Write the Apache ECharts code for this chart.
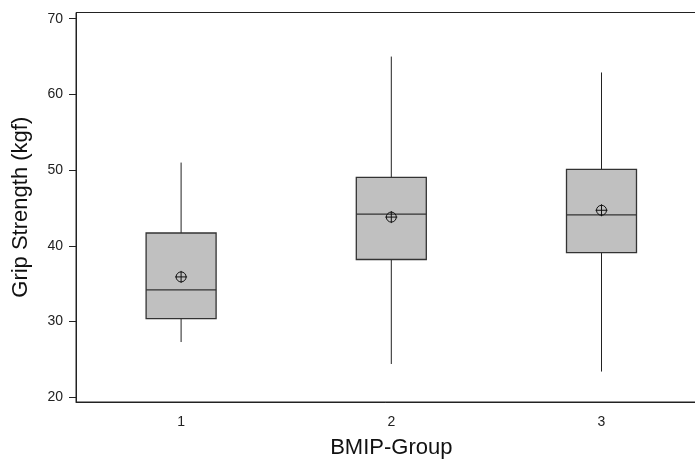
<!DOCTYPE html>
<html>
<head>
<meta charset="utf-8">
<script src="https://cdn.jsdelivr.net/npm/echarts@6/dist/echarts.min.js"></script>
<style>
  html, body { margin: 0; padding: 0; background: #fff; }
  #box { width: 695px; height: 459px; }
</style>
</head>
<body>
<div id="box"></div>
<script>
var chart = echarts.init(document.getElementById('box'));

// values
var groups = ['1', '2', '3'];
var whiskerLow = [27.3, 24.4, 23.4];
var q1 = [30.4, 38.2, 39.1];
var median = [34.2, 44.2, 44.1];
var q3 = [41.7, 49.05, 50.1];
var whiskerHigh = [51.0, 65.0, 62.9];
var means = [35.9, 43.8, 44.7];
var yTicks = [20, 30, 40, 50, 60, 70];

var boxData = groups.map(function (g, i) {
  return [i, whiskerLow[i], q1[i], median[i], q3[i], whiskerHigh[i]];
});
var meanData = groups.map(function (g, i) {
  return [i, means[i]];
});

var boxWidth = 70;
var font = 'Liberation Sans, Arial, sans-serif';

function renderBox(params, api) {
  var x = api.value(0);
  var lo = api.coord([x, api.value(1)]);
  var b1 = api.coord([x, api.value(2)]);
  var md = api.coord([x, api.value(3)]);
  var b3 = api.coord([x, api.value(4)]);
  var hi = api.coord([x, api.value(5)]);
  var half = boxWidth / 2;
  var line = {stroke: '#222', lineWidth: 1};
  return {
    type: 'group',
    children: [
      {type: 'line', shape: {x1: hi[0], y1: hi[1], x2: b3[0], y2: b3[1]}, style: line},
      {type: 'line', shape: {x1: lo[0], y1: lo[1], x2: b1[0], y2: b1[1]}, style: line},
      {type: 'rect', shape: {x: b3[0] - half, y: b3[1], width: 2 * half, height: b1[1] - b3[1]},
        style: {fill: '#c0c0c0', stroke: '#333', lineWidth: 1.3}},
      {type: 'line', shape: {x1: md[0] - half, y1: md[1], x2: md[0] + half, y2: md[1]},
        style: {stroke: '#333', lineWidth: 1.3}}
    ]
  };
}

function renderMean(params, api) {
  var p = api.coord([api.value(0), api.value(1)]);
  var r = 5;
  var st = {stroke: '#111', lineWidth: 1, fill: null};
  return {
    type: 'group',
    children: [
      {type: 'circle', shape: {cx: p[0], cy: p[1], r: r}, style: st},
      {type: 'line', shape: {x1: p[0] - r - 1, y1: p[1], x2: p[0] + r + 1, y2: p[1]}, style: st},
      {type: 'line', shape: {x1: p[0], y1: p[1] - r - 1, x2: p[0], y2: p[1] + r + 1}, style: st}
    ]
  };
}

var option = {
  backgroundColor: '#fff',
  animation: false,
  grid: {
    left: 76,
    top: 12.5,
    width: 630.6,
    height: 389.5,
    outerBoundsMode: 'none',
    containLabel: false,
    show: true,
    borderColor: '#222',
    borderWidth: 1
  },
  xAxis: {
    type: 'category',
    data: groups,
    boundaryGap: true,
    name: 'BMIP-Group',
    nameLocation: 'middle',
    nameGap: 35,
    nameTextStyle: {fontFamily: font, fontSize: 22, color: '#111'},
    axisLine: {lineStyle: {color: '#222', width: 1}},
    axisTick: {alignWithLabel: true, length: 6, lineStyle: {color: '#222'}},
    axisLabel: {fontFamily: font, fontSize: 14, color: '#222', margin: 13},
    splitLine: {show: false}
  },
  yAxis: {
    type: 'value',
    min: 19.38,
    max: 70.82,
    name: 'Grip Strength (kgf)',
    nameLocation: 'middle',
    nameGap: 44,
    nameTextStyle: {fontFamily: font, fontSize: 22, color: '#111'},
    axisLine: {show: true, lineStyle: {color: '#222', width: 1}},
    axisTick: {show: true, length: 7, customValues: yTicks, lineStyle: {color: '#222'}},
    axisLabel: {fontFamily: font, fontSize: 14, color: '#222', margin: 13, customValues: yTicks},
    splitLine: {show: false}
  },
  series: [
    {
      type: 'custom',
      renderItem: renderBox,
      encode: {x: 0, y: [1, 2, 3, 4, 5]},
      data: boxData
    },
    {
      type: 'custom',
      renderItem: renderMean,
      encode: {x: 0, y: 1},
      data: meanData,
      z: 5
    }
  ]
};
chart.setOption(option);
</script>
</body>
</html>
